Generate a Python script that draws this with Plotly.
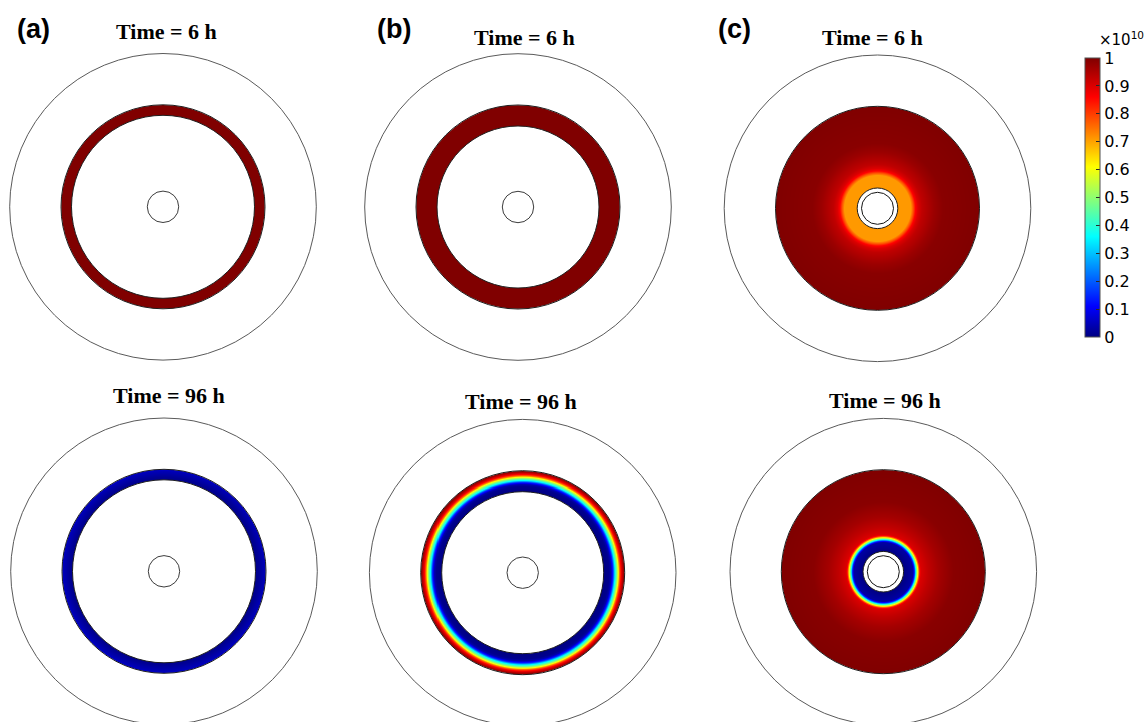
import numpy as np
import plotly.graph_objects as go

# ---------------- data (radial concentration profiles, units of 1e10) ----------------
panel_labels = ["(a)", "(b)", "(c)"]
time_labels = ["Time = 6 h", "Time = 96 h"]

# geometry radii (drawing units)
domain_radius = 153.3
hole_radius_ab = 15.7          # small inner circle in (a), (b)
ring_a = [91.5, 102.0]         # inner / outer radius of coating ring (a)
ring_b = [81.0, 102.0]         # inner / outer radius of coating ring (b)
disk_c = [20.3, 102.0]         # inner / outer radius of tissue disk (c)
object_c = 16.0                # inner object radius (c)

# (a) profiles
a6_r = [91.5, 102.0]
a6_v = [1.0, 1.0]
a96_r = [91.5, 94.0, 97.0, 100.0, 102.0]
a96_v = [0.01, 0.015, 0.03, 0.045, 0.065]

# (b) profiles
b6_r = [81.0, 102.0]
b6_v = [1.0, 1.0]
b96_r = [81.0, 86.0, 88.0, 90.0, 92.0, 93.7, 95.3, 96.5, 98.0, 100.0, 102.0]
b96_v = [0.0, 0.01, 0.04, 0.15, 0.36, 0.48, 0.61, 0.75, 0.86, 0.95, 1.0]

# (c) profiles
c6_r = [20.3, 33.0, 35.3, 37.5, 40.0, 44.0, 50.0, 56.0, 65.0, 102.0]
c6_v = [0.71, 0.71, 0.78, 0.86, 0.90, 0.93, 0.95, 0.97, 0.99, 1.0]
c96_r = [20.2, 29.5, 31.0, 32.3, 33.3, 34.3, 35.3, 36.3, 37.5, 45.0, 55.0, 70.0, 102.0]
c96_v = [0.0, 0.03, 0.15, 0.36, 0.50, 0.61, 0.75, 0.86, 0.90, 0.93, 0.96, 0.99, 1.0]

cbar_ticks = [0, 0.1, 0.2, 0.3, 0.4, 0.5, 0.6, 0.7, 0.8, 0.9, 1]
cbar_ticktext = ["0", "0.1", "0.2", "0.3", "0.4", "0.5", "0.6", "0.7", "0.8", "0.9", "1"]

# ---------------- layout constants ----------------
W, H = 1145, 722
centers = {
    "a6": (163.0, 206.8), "b6": (518.0, 207.0), "c6": (877.5, 208.3),
    "a96": (164.0, 571.3), "b96": (522.7, 572.7), "c96": (883.3, 571.7),
}
radii = {
    "a6": ring_a, "a96": ring_a, "b6": ring_b, "b96": ring_b,
    "c6": disk_c, "c96": disk_c,
}

jet = [
    [0.0, "rgb(0,0,130)"],
    [0.11, "rgb(0,0,255)"],
    [0.36, "rgb(0,255,255)"],
    [0.61, "rgb(255,255,0)"],
    [0.86, "rgb(255,0,0)"],
    [1.0, "rgb(128,0,0)"],
]

fig = go.Figure()
STEP = 0.5
PAD = 2.0   # field drawn slightly past its boundaries, then trimmed by white masks


def add_field(key, pr, pv):
    cx, cy = centers[key]
    rin, rout = radii[key]
    off = np.arange(-106, 106 + STEP, STEP)
    xs = cx + off
    ys = cy + off
    X, Y = np.meshgrid(xs, ys)
    R = np.hypot(X - cx, Y - cy)
    Z = np.interp(R, pr, pv)
    Z[(R < rin - PAD) | (R > rout + PAD)] = np.nan
    fig.add_trace(go.Heatmap(x=xs, y=ys, z=Z.astype(np.float32), coloraxis="coloraxis",
                             hoverinfo="skip", zsmooth=False))


add_field("a6", a6_r, a6_v)
add_field("a96", a96_r, a96_v)
add_field("b6", b6_r, b6_v)
add_field("b96", b96_r, b96_v)
add_field("c6", c6_r, c6_v)
add_field("c96", c96_r, c96_v)

shapes = []


def circ(key, r, color="rgb(70,70,70)", width=1.0, fill=None):
    cx, cy = centers[key]
    d = dict(type="circle", xref="x", yref="y",
             x0=cx - r, x1=cx + r, y0=cy - r, y1=cy + r,
             line=dict(color=color, width=width), layer="above")
    if fill is not None:
        d["fillcolor"] = fill
    shapes.append(d)


# white masks that trim the field exactly at its boundaries
for k in centers:
    rin, rout = radii[k]
    circ(k, rin, "white", 0, fill="white")
    circ(k, rout + PAD + 1.0, "white", 2 * (PAD + 1.0) + 0.5)

# outlines
for k in centers:
    circ(k, domain_radius, "rgb(90,90,90)", 1.0)
    rin, rout = radii[k]
    circ(k, rin, "rgb(30,30,30)", 1.0)
    circ(k, rout, "rgb(30,30,30)", 1.0)
for k in ["a6", "a96", "b6", "b96"]:
    circ(k, hole_radius_ab, "rgb(60,60,60)", 1.0)
for k in ["c6", "c96"]:
    circ(k, object_c, "rgb(20,20,20)", 1.0)

annotations = []
title_pos = [
    (166, 31, time_labels[0]), (524, 37, time_labels[0]), (872, 37, time_labels[0]),
    (169, 395, time_labels[1]), (521, 401, time_labels[1]), (885, 400, time_labels[1]),
]
for x, y, t in title_pos:
    annotations.append(dict(x=x, y=y, xref="x", yref="y", text=t, showarrow=False,
                            xanchor="center", yanchor="middle",
                            font=dict(family="Liberation Serif", size=22, color="black",
                                      weight="bold")))
for x, t in zip([33, 394, 734], panel_labels):
    annotations.append(dict(x=x, y=29, xref="x", yref="y", text=t, showarrow=False,
                            xanchor="center", yanchor="middle",
                            font=dict(family="Liberation Sans", size=27, color="black",
                                      weight="bold")))
annotations.append(dict(x=1097, y=39, xref="x", yref="y", text="×10<sup>10</sup>",
                        showarrow=False, xanchor="left", yanchor="middle",
                        font=dict(family="DejaVu Sans", size=15, color="black")))

fig.update_layout(
    width=W, height=H,
    margin=dict(l=0, r=0, t=0, b=0),
    paper_bgcolor="white", plot_bgcolor="white",
    xaxis=dict(range=[0, W], visible=False, showgrid=False, zeroline=False),
    yaxis=dict(range=[H, 0], visible=False, showgrid=False, zeroline=False),
    shapes=shapes,
    annotations=annotations,
    showlegend=False,
    coloraxis=dict(
        colorscale=jet, cmin=0, cmax=1,
        colorbar=dict(
            x=1085 / W, xanchor="left", y=1 - 58 / H, yanchor="top",
            lenmode="pixels", len=279, thicknessmode="pixels", thickness=15,
            outlinewidth=1, outlinecolor="rgb(80,80,80)",
            tickvals=cbar_ticks, ticktext=cbar_ticktext,
            ticks="inside", ticklen=4, tickcolor="rgb(40,40,40)",
            tickfont=dict(family="DejaVu Sans", size=16, color="black"),
            xpad=0, ypad=0,
        ),
    ),
)

fig.write_html("out.html")
